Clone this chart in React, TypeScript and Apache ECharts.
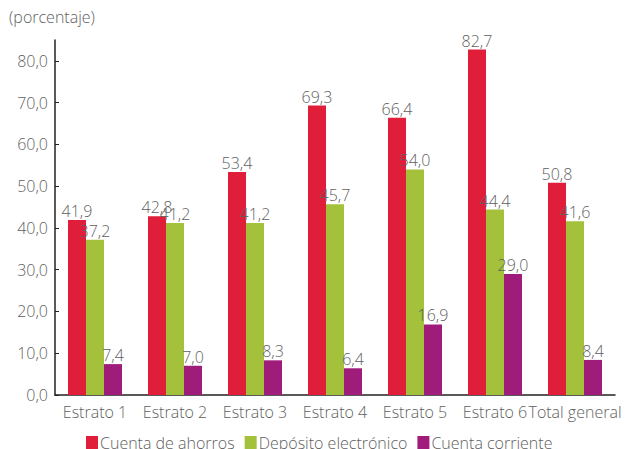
import React, { useEffect, useRef } from "react";
import * as echarts from "echarts";

const categories = ["Estrato 1", "Estrato 2", "Estrato 3", "Estrato 4", "Estrato 5", "Estrato 6", "Total general"];
const seriesNames = ["Cuenta de ahorros", "Depósito electrónico", "Cuenta corriente"];
const ahorros = [41.9, 42.8, 53.4, 69.3, 66.4, 82.7, 50.8];
const electronico = [37.2, 41.2, 41.2, 45.7, 54.0, 44.4, 41.6];
const corriente = [7.4, 7.0, 8.3, 6.4, 16.9, 29.0, 8.4];
const yTicks = [0, 10, 20, 30, 40, 50, 60, 70, 80];
const colors = ["#E01E3A", "#A3C13A", "#A01C7B"];

const FONT = "'Open Sans', 'Noto Sans', sans-serif";
const TXT = "#5f5f5f";
const FS = 16;
const FW = 300;

const fmt = (v: number) => v.toFixed(1).replace(".", ",");

export default function App() {
  const ref = useRef<HTMLDivElement>(null);
  useEffect(() => {
    if (!ref.current) return;
    const chart = echarts.init(ref.current, undefined, { renderer: "svg" });
    const dataSets = [ahorros, electronico, corriente];
    chart.setOption({
      animation: false,
      textStyle: { fontFamily: FONT, fontWeight: FW },
      graphic: [
        {
          type: "text",
          left: 9,
          top: 9,
          style: { text: "(porcentaje)", fontSize: FS, fontWeight: FW, fill: TXT, fontFamily: FONT },
        },
      ],
      legend: {
        bottom: -7,
        left: 81,
        itemWidth: 12,
        itemHeight: 14,
        itemGap: 10,
        icon: "rect",
        textStyle: { fontSize: FS, fontWeight: FW, color: TXT, fontFamily: FONT, padding: [0, 0, 0, -3] },
        data: seriesNames,
      },
      grid: { left: 55, right: 11, top: 40, bottom: 54, containLabel: false },
      xAxis: {
        type: "category",
        data: categories,
        axisLine: { lineStyle: { color: "#222", width: 1.5 } },
        axisTick: { inside: true, length: 5, lineStyle: { color: "#222" } },
        axisLabel: { fontSize: FS, fontWeight: FW, color: TXT, fontFamily: FONT, margin: 9, interval: 0 },
      },
      yAxis: {
        type: "value",
        min: 0,
        max: 85,
        interval: 10,
        splitLine: { show: false },
        axisLine: { show: true, lineStyle: { color: "#222", width: 1.5 } },
        axisTick: { show: true, inside: true, length: 4, lineStyle: { color: "#222" }, customValues: yTicks },
        axisLabel: {
          fontSize: FS,
          fontWeight: FW,
          color: TXT,
          fontFamily: FONT,
          margin: 7,
          customValues: yTicks,
          formatter: (v: number) => fmt(v),
        },
      },
      series: dataSets.map((d, i) => ({
        type: "bar",
        name: seriesNames[i],
        data: d,
        barWidth: 18,
        barGap: "0%",
        itemStyle: { color: colors[i] },
        label: {
          show: true,
          position: "top",
          distance: 1,
          fontSize: FS,
          fontWeight: FW,
          color: TXT,
          fontFamily: FONT,
          formatter: (p: any) => fmt(p.value),
        },
      })),
    });
    return () => chart.dispose();
  }, []);
  return <div ref={ref} style={{ width: 626, height: 449, position: "absolute", left: 0, top: 0 }} />;
}
